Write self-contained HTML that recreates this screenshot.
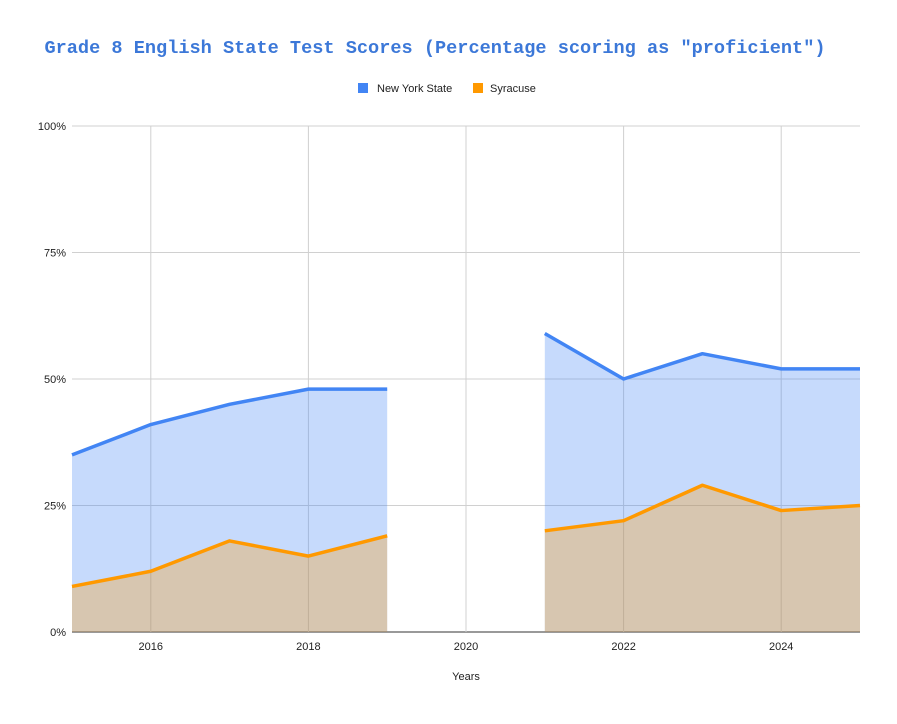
<!DOCTYPE html>
<html><head><meta charset="utf-8"><style>
body{margin:0;background:#fff;font-family:"Liberation Sans",sans-serif}
</style></head><body>
<svg id="chart" width="897" height="719" xmlns="http://www.w3.org/2000/svg">
<rect width="897" height="719" fill="#fff"/>
<text x="435" y="53" text-anchor="middle" font-family="Liberation Mono, monospace" font-weight="bold" font-size="18.6" fill="#3c78d8">Grade 8 English State Test Scores (Percentage scoring as "proficient")</text>
<g>
<rect x="358" y="83" width="10" height="10" fill="#4285f4"/>
<text x="377" y="92" font-size="11" fill="#222">New York State</text>
<rect x="473" y="83" width="10" height="10" fill="#ff9900"/>
<text x="490" y="92" font-size="11" fill="#222">Syracuse</text>
</g>
<g id="grid"></g>
<g id="areas"></g>
<g id="axes"></g>
<text x="466" y="680" text-anchor="middle" font-size="11" fill="#222">Years</text>
</svg>
<script>
const years=[2015,2016,2017,2018,2019,2020,2021,2022,2023,2024,2025];
const nys=[35,41,45,48,48,null,59,50,55,52,52];
const syr=[9,12,18,15,19,null,20,22,29,24,25];
const yTicks=[0,25,50,75,100];
const xTicks=[2016,2018,2020,2022,2024];
const X0=72,X1=860,Y0=632,Y1=126;
const xs=y=>X0+(y-2015)/(2025-2015)*(X1-X0);
const ys=v=>Y0-v/100*(Y0-Y1);
const NS="http://www.w3.org/2000/svg";
function mk(t,a,p){const e=document.createElementNS(NS,t);for(const k in a)e.setAttribute(k,a[k]);p.appendChild(e);return e;}
const grid=document.getElementById('grid'),areas=document.getElementById('areas'),axes=document.getElementById('axes');
yTicks.forEach(v=>{
 const l=mk('line',{x1:X0,x2:X1,y1:ys(v),y2:ys(v),stroke:v===0?'#333':'#d0d0d0','stroke-width':1},grid);
 
 
 const t=mk('text',{x:X0-6,y:ys(v)+4,'text-anchor':'end','font-size':11,fill:'#222'},axes);
 t.textContent=v+'%';
 
 
});
xTicks.forEach(y=>{
 const l=mk('line',{x1:xs(y),x2:xs(y),y1:Y1,y2:Y0,stroke:'#d0d0d0','stroke-width':1},grid);
 
 
 const t=mk('text',{x:xs(y),y:Y0+18,'text-anchor':'middle','font-size':11,fill:'#222'},axes);
 t.textContent=y;
 
 
});
function segs(vals){const out=[];let cur=[];vals.forEach((v,i)=>{if(v==null){if(cur.length)out.push(cur);cur=[];}else cur.push([xs(years[i]),ys(v)]);});if(cur.length)out.push(cur);return out;}
function drawSeries(vals,color,name){
 segs(vals).forEach(s=>{
  const d='M'+s[0][0]+','+Y0+' '+s.map(p=>'L'+p[0]+','+p[1]).join(' ')+' L'+s[s.length-1][0]+','+Y0+'Z';
  const a=mk('path',{d:d,fill:color,'fill-opacity':0.3},areas);
  
  
 });
}
function drawLine(vals,color,name){
 segs(vals).forEach(s=>{
  const l=mk('polyline',{points:s.map(p=>p.join(',')).join(' '),fill:'none',stroke:color,'stroke-width':3.5,'stroke-linejoin':'round'},areas);
  
  
 });
}
drawSeries(nys,'#4285f4','nys');
drawSeries(syr,'#ff9900','syracuse');
drawLine(nys,'#4285f4','nys');
drawLine(syr,'#ff9900','syracuse');
</script>
</body></html>
